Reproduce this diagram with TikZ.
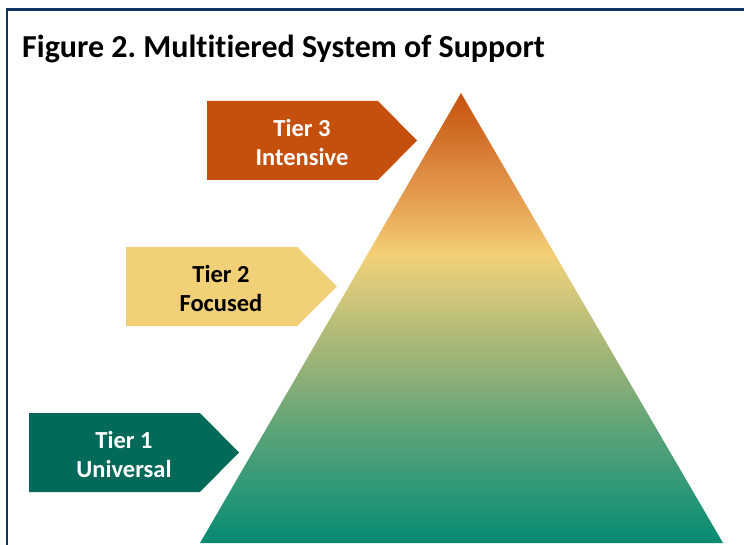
\documentclass[tikz,border=0pt]{standalone}
\usepackage{fontspec}
\setmainfont{Carlito}[Ligatures = {NoCommon, NoRare}]
\usepackage{tikz}
\frenchspacing

\definecolor{frameBlue}{RGB}{12,52,96}
\definecolor{tierOne}{RGB}{3,105,88}
\definecolor{tierTwo}{RGB}{242,208,119}
\definecolor{tierThree}{RGB}{197,80,14}

\pgfdeclareverticalshading{pyramidShading}{100bp}{
  color(0bp)=(rgb,255:red,7;green,138;blue,113);
  color(25bp)=(rgb,255:red,7;green,138;blue,113);
  color(30bp)=(rgb,255:red,40;green,150;blue,120);
  color(38bp)=(rgb,255:red,96;green,164;blue,120);
  color(43bp)=(rgb,255:red,138;green,174;blue,120);
  color(48bp)=(rgb,255:red,175;green,186;blue,120);
  color(53bp)=(rgb,255:red,212;green,200;blue,122);
  color(57bp)=(rgb,255:red,243;green,208;blue,119);
  color(62bp)=(rgb,255:red,232;green,166;blue,86);
  color(66bp)=(rgb,255:red,222;green,140;blue,68);
  color(71bp)=(rgb,255:red,208;green,106;blue,34);
  color(75bp)=(rgb,255:red,198;green,82;blue,16);
  color(100bp)=(rgb,255:red,198;green,82;blue,16)}

\begin{document}
\begin{tikzpicture}[x = 1pt, y = -1pt]
\tikzstyle{tierStyle} = [align = center, font = \fontsize{24.5}{29}\selectfont\bfseries, inner sep = 0pt]
\useasboundingbox (0,0) rectangle (744,545);
\draw[frameBlue, line width = 2.5pt] (7,545) -- (7,9.5) -- (744,9.5);
\node[anchor = base west, inner sep = 0pt, font = \fontsize{32}{38}\selectfont\bfseries] (title) at (22,58) {Figure 2. Multitiered System of Support};
% pyramid
\shade[shading = pyramidShading] (461,93) -- (723,543) -- (200,543) -- cycle;
% tier arrows
\fill[tierThree] (207,101) -- (378,101) -- (417,140.5) -- (378,180) -- (207,180) -- cycle;
\fill[tierTwo] (126,247) -- (297,247) -- (337,286.5) -- (297,326) -- (126,326) -- cycle;
\fill[tierOne] (29,413) -- (200,413) -- (239,452.5) -- (200,492) -- (29,492) -- cycle;
\node[tierStyle, text = white] (t3) at (302,142) {Tier 3\\Intensive};
\node[tierStyle, text = black] (t2) at (221,288) {Tier 2\\Focused};
\node[tierStyle, text = white] (t1) at (124,454) {Tier 1\\Universal};
\end{tikzpicture}
\end{document}
